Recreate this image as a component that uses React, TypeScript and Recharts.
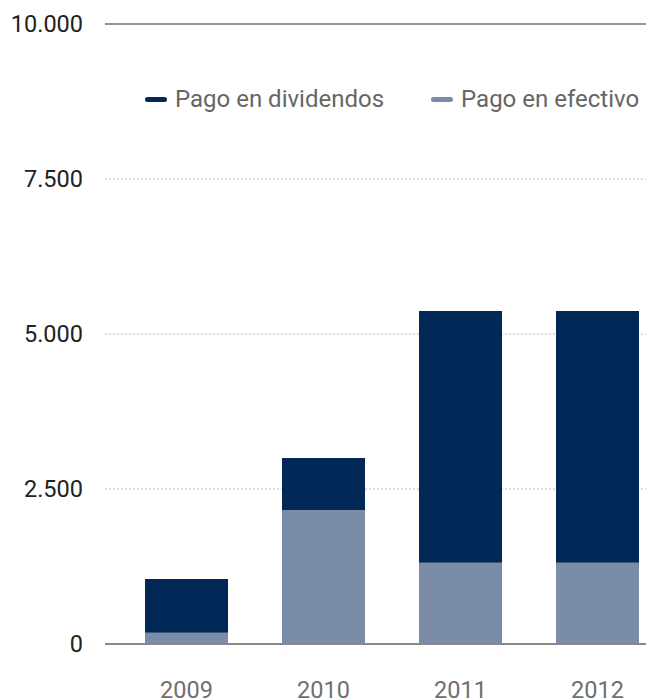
import { BarChart, Bar, XAxis, YAxis, CartesianGrid, ReferenceLine, Legend } from 'recharts';

const years = ['2009', '2010', '2011', '2012'];
const efectivo = [180, 2160, 1310, 1310];
const dividendos = [870, 840, 4060, 4060];
const yTicks = [0, 2500, 5000, 7500, 10000];

const DARK = '#012856';
const LIGHT = '#7a8ca8';
const FONT = 'Roboto, "Noto Sans", sans-serif';

const data = years.map((year, i) => ({
  year,
  efectivo: efectivo[i],
  dividendos: dividendos[i],
}));

const legendItems = [
  { label: 'Pago en dividendos', color: DARK },
  { label: 'Pago en efectivo', color: LIGHT },
];

const fmt = (v: number) => v.toLocaleString('de-DE');

const LegendContent = () => (
  <div style={{ display: 'flex', alignItems: 'center', fontFamily: FONT, fontSize: 24, color: '#666', whiteSpace: 'nowrap' }}>
    {legendItems.map((item, i) => (
      <div key={item.label} style={{ display: 'flex', alignItems: 'center', marginLeft: i === 0 ? 0 : 47 }}>
        <span
          style={{
            display: 'inline-block',
            width: 22,
            height: 5,
            borderRadius: 3,
            background: item.color,
            marginRight: 8,
          }}
        />
        <span>{item.label}</span>
      </div>
    ))}
  </div>
);

export default function App() {
  return (
    <div style={{ width: 646, height: 692, overflow: 'hidden' }}>
      <BarChart
        width={658}
        height={692}
        data={data}
        margin={{ top: 16, right: 0, left: 0, bottom: 0 }}
        barSize={83}
      >
        <CartesianGrid vertical={false} stroke="#bbb" strokeDasharray="2 2" />
        <XAxis
          dataKey="year"
          height={56}
          padding={{ left: 13, right: 0 }}
          axisLine={{ stroke: '#888', strokeWidth: 2 }}
          tickLine={false}
          tickMargin={31}
          tick={{ fill: '#6f6f6f', fontSize: 23.5, fontFamily: FONT }}
        />
        <YAxis
          width={97}
          domain={[0, 10000]}
          ticks={yTicks}
          tickFormatter={fmt}
          axisLine={false}
          tickLine={false}
          tickSize={0}
          tickMargin={22}
          tick={{ fill: '#222', fontSize: 23.5, fontFamily: FONT }}
        />
        <ReferenceLine y={10000} stroke="#777" strokeWidth={1.5} />
        <Legend
          layout="horizontal"
          verticalAlign="middle"
          align="center"
          content={LegendContent}
          wrapperStyle={{ top: 77, left: 137, width: 'auto' }}
        />
        <Bar dataKey="efectivo" stackId="a" fill={LIGHT} isAnimationActive={false} />
        <Bar dataKey="dividendos" stackId="a" fill={DARK} isAnimationActive={false} />
      </BarChart>
    </div>
  );
}
